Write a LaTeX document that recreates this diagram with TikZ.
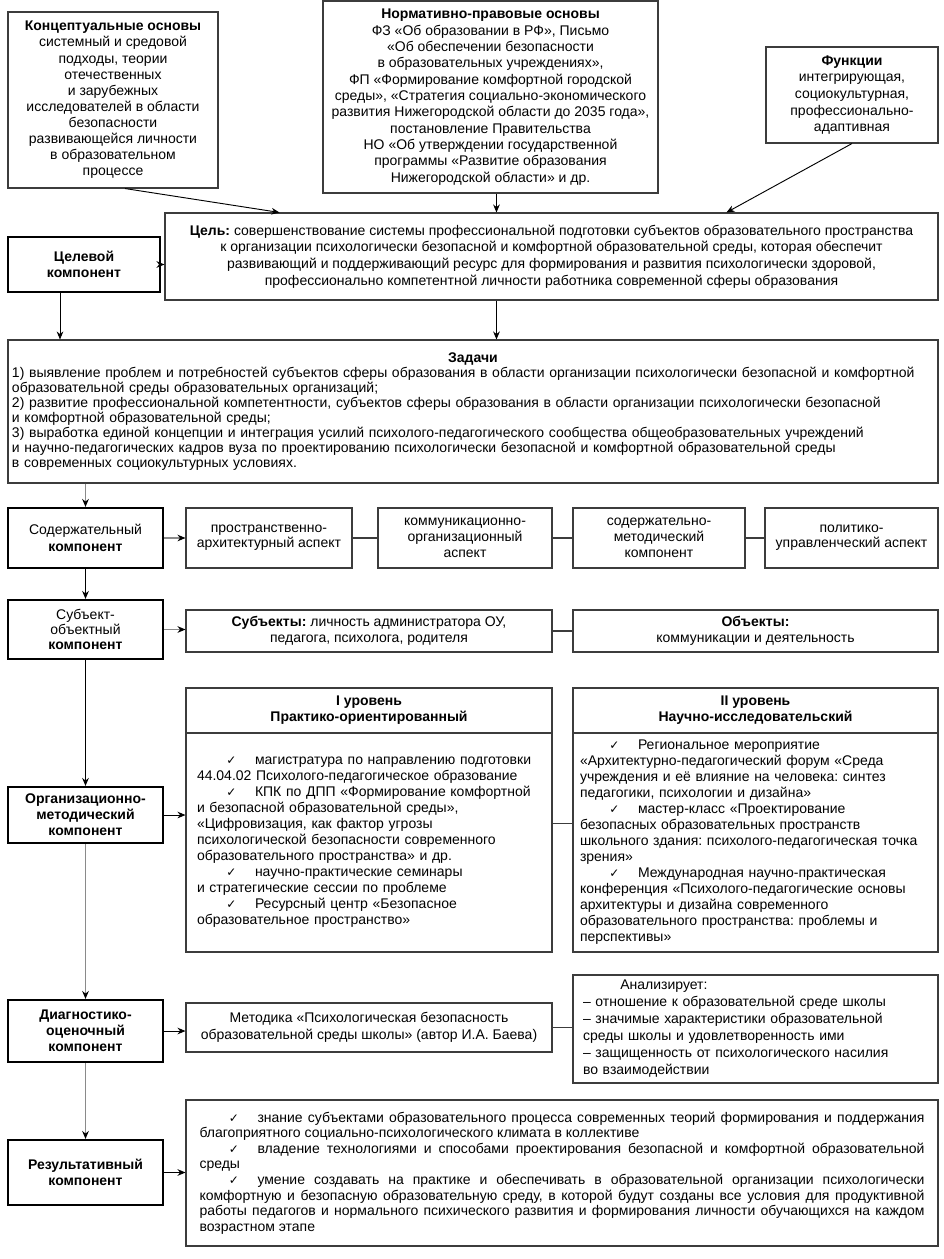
\documentclass[tikz,border=0pt]{standalone}
\usepackage{fontspec}
\setmainfont{Liberation Sans}
\newfontfamily\galkafont{DejaVu Sans}
\usetikzlibrary{positioning,arrows.meta,calc}
\frenchspacing
\definecolor{mdramka}{HTML}{3C3C3C}
\definecolor{mdseryj}{HTML}{8A8A8A}
\newcommand{\galka}{\makebox[43.5pt][l]{\hspace*{22pt}{\galkafont\fontsize{9}{9}\selectfont ✓}}}
\tikzset{
  mdkomp/.style={draw=black, line width=1.6pt, align=center, minimum width=116.25pt,
                 font=\fontsize{10.5}{12.5}\selectfont, inner sep=2pt},
  mdblok/.style={draw=mdramka, line width=0.8pt, align=center,
                 font=\fontsize{10.5}{12.5}\selectfont, inner sep=3pt},
  mdstrelka/.style={-{Stealth[length=6pt,width=5pt,color=black]}, line width=0.7pt, draw=black},
  mdstrelkaser/.style={-{Stealth[length=6pt,width=5pt,color=black]}, line width=0.8pt, draw=mdseryj},
  mdliniya/.style={line width=0.8pt, draw=mdramka},
}
\begin{document}
\begin{tikzpicture}[x=0.75pt, y=-0.75pt]
    \fill[white] (0,0) rectangle (943,1259);
    \useasboundingbox (0,0) rectangle (943,1259);
    % osnovy i funkcii
    \node[mdblok, minimum width=157.5pt, minimum height=132pt, font=\fontsize{10.5}{12.1}\selectfont] (konc) at (113,100)
        {\textbf{Концептуальные основы}\\системный и средовой\\подходы, теории\\отечественных\\и зарубежных\\исследователей в области\\безопасности\\развивающейся личности\\в образовательном\\процессе};
    \node[mdblok, minimum width=251.25pt, minimum height=144pt, font=\fontsize{10.5}{12.25}\selectfont] (norm) at (490.5,97)
        {\textbf{Нормативно-правовые основы}\\ФЗ «Об образовании в РФ», Письмо\\«Об обеспечении безопасности\\в образовательных учреждениях»,\\ФП «Формирование комфортной городской\\среды», «Стратегия социально-экономического\\развития Нижегородской области до 2035 года»,\\постановление Правительства\\НО «Об утверждении государственной\\программы «Развитие образования\\Нижегородской области» и др.};
    \node[mdblok, minimum width=129pt, minimum height=72pt] (funk) at (852,95)
        {\textbf{Функции}\\интегрирующая,\\социокультурная,\\профессионально-\\адаптивная};
    % celevoj komponent
    \node[mdblok, minimum width=579.75pt, minimum height=65.25pt] (cel) at (551.5,256.5)
        {\textbf{Цель:} совершенствование системы профессиональной подготовки субъектов образовательного пространства\\к организации психологически безопасной и комфортной образовательной среды, которая обеспечит\\развивающий и поддерживающий ресурс для формирования и развития психологически здоровой,\\профессионально компетентной личности работника современной сферы образования};
    \node[mdkomp, minimum width=114pt, minimum height=41.25pt, font=\fontsize{10.5}{12}\selectfont\bfseries] (celkomp) at (84,264.5) {Целевой\\компонент};
    \node[mdblok, align=left, text width=691.5pt, minimum height=107.25pt, font=\fontsize{10.5}{11.25}\selectfont] (zadachi) at (473,411.5)
        {\makebox[\linewidth]{\textbf{Задачи}}\\
         1) выявление проблем и потребностей субъектов сферы образования в области организации психологически безопасной и комфортной\\
         образовательной среды образовательных организаций;\\
         2) развитие профессиональной компетентности, субъектов сферы образования в области организации психологически безопасной\\
         и комфортной образовательной среды;\\
         3) выработка единой концепции и интеграция усилий психолого-педагогического сообщества общеобразовательных учреждений\\
         и научно-педагогических кадров вуза по проектированию психологически безопасной и комфортной образовательной среды\\
         в современных социокультурных условиях.};
    % soderzhatelnyj komponent
    \node[mdkomp, minimum height=45pt] (soderzh) at (85.5,538) {Содержательный\\\textbf{компонент}};
    \node[mdblok, minimum width=124.5pt, minimum height=45pt, font=\fontsize{10.5}{11.5}\selectfont] (asp1) at (269,538) {пространственно-\\архитектурный аспект};
    \node[mdblok, minimum width=130.5pt, minimum height=45pt, font=\fontsize{10.5}{12}\selectfont] (asp2) at (465,538) {коммуникационно-\\организационный\\аспект};
    \node[mdblok, minimum width=129pt, minimum height=45pt, font=\fontsize{10.5}{12}\selectfont] (asp3) at (659,538) {содержательно-\\методический\\компонент};
    \node[mdblok, minimum width=129.75pt, minimum height=45pt, font=\fontsize{10.5}{11.5}\selectfont] (asp4) at (851.5,538) {политико-\\управленческий аспект};
    % subekt-obektnyj komponent
    \node[mdkomp, minimum height=44.25pt, font=\fontsize{10.5}{11}\selectfont] (subkomp) at (85.5,629.5) {Субъект-\\объектный\\\textbf{компонент}};
    \node[mdblok, minimum width=274.5pt, minimum height=31.5pt, font=\fontsize{10.5}{12}\selectfont] (subj) at (369,631) {\textbf{Субъекты:} личность администратора ОУ,\\педагога, психолога, родителя};
    \node[mdblok, minimum width=273.75pt, minimum height=31.5pt, font=\fontsize{10.5}{12}\selectfont] (obj) at (755.5,631) {\textbf{Объекты:}\\коммуникации и деятельность};
    % organizacionno-metodicheskij komponent
    \node[mdblok, minimum width=274.5pt, minimum height=33.75pt, font=\fontsize{10.5}{12}\selectfont\bfseries] (urov1zag) at (369,710.5) {I уровень\\Практико-ориентированный};
    \node[mdblok, minimum width=273.75pt, minimum height=33.75pt, font=\fontsize{10.5}{12}\selectfont\bfseries] (urov2zag) at (755.5,710.5) {II уровень\\Научно-исследовательский};
    \node[mdblok, align=left, text width=258pt, inner xsep=8.25pt, minimum height=164.25pt, font=\fontsize{10.5}{12}\selectfont] (urov1) at (369,842.5)
        {\galka магистратура по направлению подготовки\\
         44.04.02 Психолого-педагогическое образование\\
         \galka КПК по ДПП «Формирование комфортной\\
         и безопасной образовательной среды»,\\
         «Цифровизация, как фактор угрозы\\
         психологической безопасности современного\\
         образовательного пространства» и др.\\
         \galka научно-практические семинары\\
         и стратегические сессии по проблеме\\
         \galka Ресурсный центр «Безопасное\\
         образовательное пространство»};
    \node[mdblok, align=left, text width=263.25pt, inner xsep=5.25pt, minimum height=164.25pt, font=\fontsize{10.5}{12}\selectfont] (urov2) at (755.5,842.5)
        {\galka Региональное мероприятие\\
         «Архитектурно-педагогический форум «Среда\\
         учреждения и её влияние на человека: синтез\\
         педагогики, психологии и дизайна»\\
         \galka мастер-класс «Проектирование\\
         безопасных образовательных пространств\\
         школьного здания: психолого-педагогическая точка\\
         зрения»\\
         \galka Международная научно-практическая\\
         конференция «Психолого-педагогические основы\\
         архитектуры и дизайна современного\\
         образовательного пространства: проблемы и\\
         перспективы»};
    \node[mdkomp, minimum height=42pt, font=\fontsize{10.5}{12}\selectfont\bfseries] (orgkomp) at (85.5,815) {Организационно-\\методический\\компонент};
    % diagnostiko-ocenochnyj komponent
    \node[mdkomp, minimum height=46.5pt, font=\fontsize{10.5}{12}\selectfont\bfseries] (diagkomp) at (85.5,1031) {Диагностико-\\оценочный\\компонент};
    \node[mdblok, minimum width=274.5pt, minimum height=36.75pt, font=\fontsize{10.5}{13}\selectfont] (metod) at (369,1027.5) {Методика «Психологическая безопасность\\образовательной среды школы» (автор И.А. Баева)};
    \node[mdblok, align=left, text width=258.75pt, inner xsep=7.5pt, minimum height=81pt, font=\fontsize{10.5}{12.75}\selectfont] (analiz) at (755.5,1029)
        {\hspace*{28pt}Анализирует:\\
         – отношение к образовательной среде школы\\
         – значимые характеристики образовательной\\
         среды школы и удовлетворенность ими\\
         – защищенность от психологического насилия\\
         во взаимодействии};
    % rezultativnyj komponent
    \node[mdkomp, minimum height=48.75pt, font=\fontsize{10.5}{12}\selectfont\bfseries] (rezkomp) at (85.5,1172.5) {Результативный\\компонент};
    \node[mdblok, align=justify, text width=543.75pt, minimum width=564pt, minimum height=109.5pt, font=\fontsize{10.5}{11.7}\selectfont] (rez) at (562,1173)
        {\galka знание субъектами образовательного процесса современных теорий формирования и поддержания\linebreak
         благоприятного социально-психологического климата в коллективе\par
         \galka владение технологиями и способами проектирования безопасной и комфортной образовательной\linebreak
         среды\par
         \galka умение создавать на практике и обеспечивать в образовательной организации психологически\linebreak
         комфортную и безопасную образовательную среду, в которой будут созданы все условия для продуктивной\linebreak
         работы педагогов и нормального психического развития и формирования личности обучающихся на каждом\linebreak
         возрастном этапе};
    % svyazi
    \coordinate (celverh) at ($(cel.north west)+(332,0)$);
    \coordinate (celniz) at ($(celkomp.south)+(-24,0)$);
    \draw[mdstrelka] ($(konc.south)+(12,0)$) -- ($(cel.north west)+(115,0)$);
    \draw[mdstrelka] (norm.south -| celverh) -- (celverh);
    \draw[mdstrelka] (funk.south) -- ($(cel.north west)+(562,0)$);
    \draw[mdstrelkaser] (celkomp.east) -- (celkomp.east -| cel.west);
    \draw[mdstrelka] (celniz) -- (celniz |- zadachi.north);
    \draw[mdstrelka] (cel.south -| celverh) -- (zadachi.north -| celverh);
    \draw[mdstrelkaser] (zadachi.south -| soderzh.north) -- (soderzh.north);
    \draw[mdstrelkaser] (soderzh.east) -- (soderzh.east -| asp1.west);
    \draw[mdliniya] (asp1) -- (asp2);
    \draw[mdliniya] (asp2) -- (asp3);
    \draw[mdliniya] (asp3) -- (asp4);
    \draw[mdstrelka] (soderzh) -- (subkomp);
    \draw[mdstrelkaser] (subkomp.east) -- (subkomp.east -| subj.west);
    \draw[mdliniya] (subj) -- (obj);
    \draw[mdstrelka] (subkomp) -- (orgkomp);
    \draw[mdstrelka] (orgkomp.east) -- (orgkomp.east -| urov1.west);
    \draw[mdliniya] ($(urov1.east)+(0,-19)$) -- ($(urov2.west)+(0,-19)$);
    \draw[mdstrelkaser] (orgkomp) -- (diagkomp);
    \draw[mdstrelka] (diagkomp.east) -- (diagkomp.east -| metod.west);
    \draw[mdliniya] (metod.east) -- (metod.east -| analiz.west);
    \draw[mdstrelkaser] (diagkomp) -- (rezkomp);
    \draw[mdstrelka] (rezkomp.east) -- (rezkomp.east -| rez.west);
\end{tikzpicture}
\end{document}
